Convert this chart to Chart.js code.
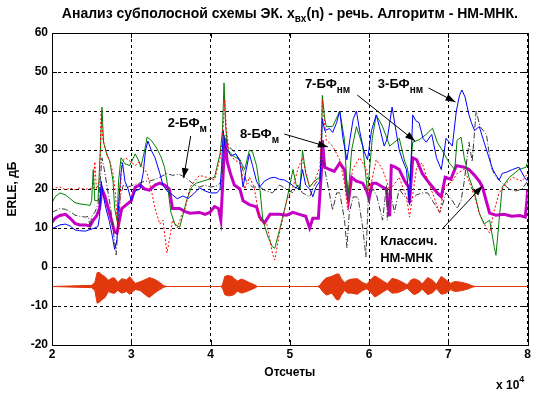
<!DOCTYPE html>
<html><head><meta charset="utf-8">
<script src="https://cdn.jsdelivr.net/npm/chart.js@4/dist/chart.umd.min.js"></script>
<style>html,body{margin:0;padding:0;background:#fff;}</style>
</head><body>
<canvas id="c" width="533" height="394"></canvas>
<script>
// ---------- data (x in units of 10^4 samples, y in dB) ----------
const xTicks = [2,3,4,5,6,7,8];
const yTicks = [-20,-10,0,10,20,30,40,50,60];

const blueX = [2.00,2.05,2.10,2.17,2.23,2.29,2.35,2.42,2.48,2.54,2.58,2.60,2.62,2.65,2.68,2.72,2.76,2.79,2.82,2.84,2.87,2.89,2.92,2.96,3.00,3.05,3.11,3.15,3.18,3.21,3.25,3.30,3.36,3.40,3.45,3.52,3.58,3.65,3.72,3.80,3.86,3.93,4.00,4.08,4.12,4.14,4.16,4.18,4.21,4.26,4.32,4.37,4.41,4.45,4.49,4.53,4.58,4.62,4.68,4.75,4.81,4.87,4.93,5.00,5.06,5.12,5.16,5.20,5.25,5.29,5.33,5.38,5.41,5.44,5.50,5.54,5.59,5.63,5.67,5.72,5.76,5.80,5.84,5.88,5.93,5.98,6.03,6.09,6.13,6.19,6.23,6.29,6.33,6.38,6.42,6.47,6.51,6.55,6.59,6.63,6.68,6.72,6.79,6.85,6.91,6.95,6.97,7.01,7.05,7.10,7.14,7.17,7.21,7.26,7.29,7.33,7.39,7.45,7.52,7.56,7.60,7.64,7.68,7.73,7.81,7.89,7.96,8.00];
const blueY = [9.8,10.3,10.8,11.0,10.5,9.5,9.3,9.2,9.6,10.0,10.4,13,22,18,15,12,8,4.5,7,16,24,26.7,22,20,17,19.5,20,24,30,32.3,30,28,24,21,19.5,18.5,17.5,18.2,17.6,19,20.3,19.5,19,19,20,26,35,31,30,28.5,29,27,20.5,25,29,26,22,20.5,22,22.8,23,22.5,22.3,21.5,20.5,20,25,21,20,18,20.5,22,38,35,35.5,34.5,37,40,33,27.5,33,38,40,35,30,27.5,35,39,36,31,33,41,36,30,27.5,25,16,39,37.5,37,33,32,34,28,25,30,33,32,31,40,44,45.4,43.6,39,37,35,36,32,27.5,25,23.6,22.3,24,24.3,25,25.6,23,22];

const greenX = [2.00,2.04,2.10,2.17,2.23,2.29,2.35,2.42,2.48,2.50,2.52,2.54,2.58,2.61,2.63,2.65,2.69,2.73,2.77,2.79,2.82,2.84,2.87,2.92,2.98,3.05,3.10,3.12,3.17,3.20,3.25,3.32,3.38,3.42,3.45,3.50,3.55,3.61,3.66,3.70,3.76,3.82,3.90,3.98,4.05,4.12,4.15,4.17,4.19,4.22,4.28,4.37,4.43,4.49,4.53,4.58,4.62,4.66,4.72,4.78,4.81,4.87,4.96,5.04,5.08,5.13,5.16,5.20,5.25,5.31,5.38,5.40,5.41,5.44,5.46,5.54,5.63,5.69,5.73,5.78,5.84,5.92,5.98,6.04,6.09,6.17,6.26,6.38,6.45,6.48,6.51,6.55,6.63,6.72,6.80,6.86,6.92,7.01,7.08,7.11,7.16,7.20,7.26,7.33,7.39,7.45,7.52,7.58,7.60,7.64,7.68,7.77,7.89,7.98,8.00];
const greenY = [16.5,18,19,18.5,17.5,16.5,16.2,16,15.8,17,25,17,17,30,41,32,29,27,22,15,12,22,28,26.5,26,29,27,25.6,30,33.3,32.5,30.5,28,25.5,22,14,11,10.2,14,17.2,20.5,21.5,22,22.5,23,29,35,47.2,36,30,28.5,27.5,25,30,29.5,26,20.5,12,8,5.2,4.8,9.5,17,25,21,20,30,24,20.5,22,23.1,30,44,38,36,36,40,32.5,17,30,36,31,19,33,39,36,31,33,27,25.6,22,32,32.6,34,35.6,32,30,26.7,25,32.5,33.3,28,23,19,13.8,11,12,5,3,12,20.5,23,25,25.6,27];

const redX = [2.00,2.05,2.10,2.17,2.23,2.29,2.35,2.42,2.48,2.52,2.54,2.56,2.60,2.62,2.64,2.69,2.73,2.77,2.80,2.83,2.85,2.88,2.93,3.05,3.10,3.20,3.25,3.30,3.36,3.40,3.45,3.49,3.52,3.58,3.63,3.68,3.74,3.86,3.95,4.05,4.12,4.16,4.18,4.20,4.24,4.30,4.37,4.43,4.49,4.55,4.62,4.71,4.78,4.81,4.87,4.96,5.04,5.10,5.16,5.25,5.31,5.38,5.41,5.46,5.54,5.63,5.69,5.73,5.79,5.88,5.97,6.00,6.09,6.17,6.26,6.38,6.47,6.51,6.60,6.67,6.74,6.80,6.89,6.95,7.05,7.11,7.20,7.26,7.33,7.39,7.48,7.52,7.58,7.64,7.73,7.81,7.93,8.00];
const redY = [19.8,20.3,20.5,19.8,20.2,19.8,20.3,19.9,20.2,20,27,20,22,40,33,29,27,24,19,9,14,27,28,26,27,24,20,15,11,12,3.6,8,12,10,13,15,20.5,23.5,23,22.3,28,36,43,35,29,27.5,26.7,20,23,20.5,12,11,3.6,1.8,8.7,17,20.5,25,28,20.5,22,25.6,43,32.5,31,27.5,21.5,14.6,25,28,25,19,27.5,25,19.7,23,18,12.8,25.6,26.7,22,19,13.8,20.5,22,24,25,22,18,13.8,10,8.7,14.6,19,21.5,23,22,24];

const blackX = [2.00,2.05,2.10,2.17,2.23,2.29,2.35,2.42,2.46,2.48,2.50,2.54,2.58,2.60,2.63,2.66,2.70,2.74,2.78,2.81,2.83,2.86,2.90,2.96,3.02,3.10,3.17,3.23,3.30,3.36,3.45,3.52,3.60,3.68,3.74,3.80,3.86,3.93,4.00,4.08,4.14,4.18,4.22,4.28,4.37,4.45,4.53,4.62,4.70,4.78,4.87,4.96,5.04,5.10,5.16,5.25,5.31,5.38,5.41,5.46,5.54,5.59,5.63,5.69,5.72,5.75,5.80,5.86,5.92,5.96,5.99,6.05,6.10,6.17,6.22,6.23,6.26,6.32,6.38,6.45,6.51,6.60,6.67,6.74,6.80,6.89,6.92,6.97,7.05,7.11,7.16,7.20,7.26,7.30,7.35,7.40,7.48,7.54,7.60,7.68,7.77,7.85,7.93,8.00];
const blackY = [14,14.5,15,14.8,14.2,13.3,13,12.8,13,10,13,14,16,20,28,25,20,15,8,3.1,10,18,21,20.5,21,21.5,22,22,22.5,23,24,23.5,23.8,23,22,21,20.5,21,20.5,20.8,22,34,31,30,27.5,22,20.5,20.5,19.5,19,21,20,19,21,19,18,21,23,28,23,14.6,19,19,12,5,14,18,17.9,10,2.6,18,20,18,12,21,12,20,14,20,18,17,18.5,19,19,17,14,15.5,19,17,15,17,22,32,27,40,36,34,25.6,23,21.5,20,19.5,20,22];

const magX = [2.00,2.04,2.10,2.17,2.23,2.29,2.35,2.42,2.48,2.52,2.56,2.60,2.63,2.67,2.71,2.75,2.79,2.82,2.85,2.88,2.94,3.00,3.05,3.11,3.17,3.23,3.30,3.36,3.42,3.48,3.52,3.61,3.68,3.74,3.86,3.93,3.99,4.05,4.10,4.13,4.15,4.18,4.21,4.25,4.30,4.37,4.41,4.49,4.58,4.62,4.68,4.75,4.87,4.96,5.04,5.12,5.20,5.25,5.29,5.36,5.40,5.41,5.44,5.50,5.56,5.63,5.69,5.72,5.74,5.78,5.84,5.92,5.97,6.00,6.04,6.09,6.17,6.22,6.24,6.26,6.28,6.33,6.38,6.45,6.50,6.51,6.55,6.60,6.67,6.74,6.80,6.86,6.91,6.96,7.03,7.10,7.20,7.26,7.33,7.39,7.43,7.47,7.52,7.60,7.70,7.80,7.90,7.97,7.99,8.00];
const magY = [11.5,12.5,13.2,13.5,12.5,11.2,10.8,10.8,10.5,12,13,15,20,18,15,12,9,8.7,12,15,16,17,20.5,21,20,19.7,21,21.5,21,20,15,15,14.2,13.8,14,13.5,14,15.5,15,12,20,33,27,24,21,20,17,16,15.4,12.8,11.3,13.5,13.5,13.3,14,13.5,13,10,12.5,12.5,25,32.5,25.6,25,24.5,26.7,24.9,19.7,17,23,22,21.5,19.5,17.5,21.5,21.5,20.5,20,15.4,13,26,25.6,25,22,20.5,16.4,28,27.5,24,22,20.5,19,18,23,22.5,26,25.6,25,23.5,22,20.5,17.5,13.8,13.3,13.5,13,13.2,12.8,17,20];

// speech signal x_vx(n) (envelope, drawn at offset -5 dB)
const speechX = [2.00,2.50,2.54,2.57,2.60,2.63,2.67,2.71,2.76,2.79,2.83,2.88,2.94,2.98,3.05,3.11,3.20,3.23,3.30,3.36,3.41,3.45,4.13,4.15,4.18,4.22,4.27,4.30,4.34,4.39,4.43,4.49,4.56,4.59,5.35,5.38,5.41,5.46,5.53,5.59,5.62,5.65,5.69,5.73,5.78,5.85,5.92,5.97,6.03,6.07,6.10,6.17,6.23,6.29,6.36,6.45,6.48,6.53,6.57,6.63,6.67,6.74,6.80,6.85,6.91,6.97,7.03,7.08,7.16,7.24,7.30,7.34,8.00];
const speechTop = [-5,-4.7,-4.0,-1.4,-1.4,-2.0,-2.5,-3.4,-2.8,-2.8,-4.0,-3.0,-3.3,-2.5,-4.2,-3.8,-3.0,-2.7,-3.2,-4.0,-4.8,-5,-5,-4.6,-2.4,-2.2,-2.4,-3.0,-3.6,-3.1,-3.4,-4.0,-4.6,-5,-5,-4.7,-3.8,-2.8,-2.4,-1.8,-1.8,-3.0,-4.0,-3.4,-3.1,-3.0,-4.0,-4.4,-3.0,-2.3,-2.6,-3.5,-4.3,-2.9,-3.3,-4.2,-4.6,-3.3,-3.0,-3.5,-4.3,-2.7,-3.4,-4.4,-2.4,-3.3,-4.2,-3.7,-3.9,-4.3,-4.8,-5,-5];
const speechBottom = [-5,-5.3,-6.0,-9.3,-9.0,-8.4,-7.8,-6.3,-6.7,-6.7,-6.0,-6.7,-6.3,-7.0,-5.8,-6.0,-7.5,-7.8,-6.6,-5.8,-5.2,-5,-5,-5.4,-7.1,-7.4,-7.3,-7.0,-6.2,-6.7,-6.5,-6.0,-5.4,-5,-5,-5.3,-6.2,-7.2,-6.7,-8.4,-8.4,-7.2,-6.0,-6.7,-6.7,-7.0,-6.0,-5.6,-6.7,-7.7,-7.4,-6.5,-5.7,-6.7,-6.6,-5.8,-5.4,-6.5,-7.1,-6.5,-5.7,-7.1,-6.6,-5.6,-7.0,-6.7,-5.8,-6.3,-6.1,-5.7,-5.2,-5,-5];

// annotations (text anchor & arrow in data coordinates)
const notes = [
  {main:'2-БФ', sub:'м',  x:3.46, y:35.9, from:[3.75,33.6], to:[3.66,22.8]},
  {main:'8-БФ', sub:'м',  x:4.37, y:33.1, from:[4.93,34.1], to:[5.48,30.8]},
  {main:'7-БФ', sub:'нм', x:5.19, y:45.9, from:[5.85,44.1], to:[6.58,32.3]},
  {main:'3-БФ', sub:'нм', x:6.11, y:45.9, from:[6.75,45.9], to:[7.09,42.3]},
];
const classicNote = {lines:['Классич.','НМ-МНК'], x:6.14, y:5.6, y2:1.3, from:[6.92,9.7], to:[7.43,20.8]};

// ---------- chart ----------
const FONT = "'Liberation Sans', Arial, Helvetica, sans-serif";
const pts = (xs, ys) => xs.map((x, i) => ({x: x, y: ys[i]}));

const line = (label, xs, ys, color, width, dash) => ({
  label, data: pts(xs, ys), borderColor: color, borderWidth: width,
  borderDash: dash || [], pointRadius: 0, fill: false, tension: 0
});

const datasets = [
  line('8-БФм (red)', redX, redY, '#ff0000', 1, [2,2]),
  line('3-БФнм', blueX, blueY, '#0000ff', 1),
  line('7-БФнм', greenX, greenY, '#008000', 1),
  line('2-БФм', blackX, blackY, '#3a3a3a', 1, [6,2,1,2]),
  line('Классич. НМ-МНК', magX, magY, '#c400c4', 3),
  {label:'xвх top', data: pts(speechX, speechTop), borderColor:'#e2380e', backgroundColor:'#e2380e', borderWidth:1, pointRadius:0, fill:'+1', tension:0},
  {label:'xвх bottom', data: pts(speechX, speechBottom), borderColor:'#e2380e', borderWidth:1, pointRadius:0, fill:false, tension:0}
];

function drawRich(ctx, parts, x, y, align) {
  let total = 0;
  parts.forEach(p => { ctx.font = p.font; total += ctx.measureText(p.t).width; });
  let cx = align === 'center' ? x - total / 2 : x;
  parts.forEach(p => {
    ctx.font = p.font;
    ctx.fillText(p.t, cx, y + (p.dy || 0));
    cx += ctx.measureText(p.t).width;
  });
}

function arrow(ctx, x1, y1, x2, y2) {
  ctx.beginPath(); ctx.moveTo(x1, y1); ctx.lineTo(x2, y2); ctx.stroke();
  const a = Math.atan2(y2 - y1, x2 - x1), L = 10, W = 3.5;
  ctx.beginPath();
  ctx.moveTo(x2, y2);
  ctx.lineTo(x2 - L * Math.cos(a) + W * Math.sin(a), y2 - L * Math.sin(a) - W * Math.cos(a));
  ctx.lineTo(x2 - L * Math.cos(a) - W * Math.sin(a), y2 - L * Math.sin(a) + W * Math.cos(a));
  ctx.closePath(); ctx.fill();
}

const decor = {
  id: 'decor',
  afterDraw(chart) {
    const {ctx, chartArea: ca, scales: {x, y}} = chart;
    ctx.save();
    ctx.strokeStyle = '#000'; ctx.lineWidth = 1; ctx.setLineDash([]);
    ctx.strokeRect(Math.round(ca.left) + 0.5, Math.round(ca.top) + 0.5, Math.round(ca.right - ca.left), Math.round(ca.bottom - ca.top));
    ctx.beginPath();
    xTicks.forEach(v => { const px = Math.round(x.getPixelForValue(v)) + 0.5;
      ctx.moveTo(px, ca.bottom); ctx.lineTo(px, ca.bottom - 5);
      ctx.moveTo(px, ca.top); ctx.lineTo(px, ca.top + 5); });
    yTicks.forEach(v => { const py = Math.round(y.getPixelForValue(v)) + 0.5;
      ctx.moveTo(ca.left, py); ctx.lineTo(ca.left + 5, py);
      ctx.moveTo(ca.right, py); ctx.lineTo(ca.right - 5, py); });
    ctx.stroke();
    ctx.fillStyle = '#000'; ctx.textBaseline = 'alphabetic'; ctx.textAlign = 'left';
    drawRich(ctx, [
      {t:'Анализ субполосной схемы ЭК. x', font:'bold 14px ' + FONT},
      {t:'вх', font:'bold 10px ' + FONT, dy:4},
      {t:'(n) - речь. Алгоритм - НМ-МНК.', font:'bold 14px ' + FONT}
    ], (ca.left + ca.right) / 2, 18, 'center');
    drawRich(ctx, [{t:'x 10', font:'bold 12px ' + FONT}, {t:'4', font:'bold 9px ' + FONT, dy:-7}], 496, 389, 'left');
    ctx.strokeStyle = '#000'; ctx.lineWidth = 1;
    notes.forEach(n => {
      drawRich(ctx, [{t:n.main, font:'bold 13px ' + FONT}, {t:n.sub, font:'bold 10px ' + FONT, dy:5}],
        x.getPixelForValue(n.x), y.getPixelForValue(n.y), 'left');
      arrow(ctx, x.getPixelForValue(n.from[0]), y.getPixelForValue(n.from[1]), x.getPixelForValue(n.to[0]), y.getPixelForValue(n.to[1]));
    });
    ctx.font = 'bold 13px ' + FONT;
    ctx.fillText(classicNote.lines[0], x.getPixelForValue(classicNote.x), y.getPixelForValue(classicNote.y));
    ctx.fillText(classicNote.lines[1], x.getPixelForValue(classicNote.x), y.getPixelForValue(classicNote.y2));
    arrow(ctx, x.getPixelForValue(classicNote.from[0]), y.getPixelForValue(classicNote.from[1]), x.getPixelForValue(classicNote.to[0]), y.getPixelForValue(classicNote.to[1]));
    ctx.restore();
  }
};

Chart.defaults.font.family = FONT;
Chart.defaults.color = '#000';

new Chart(document.getElementById('c'), {
  type: 'line',
  data: { datasets },
  options: {
    responsive: false, animation: false, devicePixelRatio: 1,
    layout: { padding: { top: 33, right: 4, left: 0, bottom: 0 } },
    plugins: { legend: { display: false }, tooltip: { enabled: false }, title: { display: false } },
    scales: {
      x: {
        type: 'linear', min: 2, max: 8,
        afterFit: s => { s.height = 49; },
        afterBuildTicks: s => { s.ticks = xTicks.map(v => ({value: v})); },
        ticks: { font: { size: 12, weight: 'bold' }, padding: 2, maxRotation: 0, autoSkip: false },
        grid: { color: '#000', lineWidth: 1, drawTicks: false, borderDash: [3,3] },
        border: { display: false, dash: [3,3] },
        title: { display: true, text: 'Отсчеты', font: { size: 12, weight: 'bold' }, padding: { top: 0, bottom: 14 } }
      },
      y: {
        type: 'linear', min: -20, max: 60,
        afterFit: s => { s.width = 52; },
        afterBuildTicks: s => { s.ticks = yTicks.map(v => ({value: v})); },
        ticks: { font: { size: 12, weight: 'bold' }, padding: 4, autoSkip: false },
        grid: { color: '#000', lineWidth: 1, drawTicks: false, borderDash: [3,3] },
        border: { display: false, dash: [3,3] },
        title: { display: true, text: 'ERLE, дБ', font: { size: 12, weight: 'bold' }, padding: { top: 5, bottom: 0 } }
      }
    }
  },
  plugins: [decor]
});
</script>
</body></html>
